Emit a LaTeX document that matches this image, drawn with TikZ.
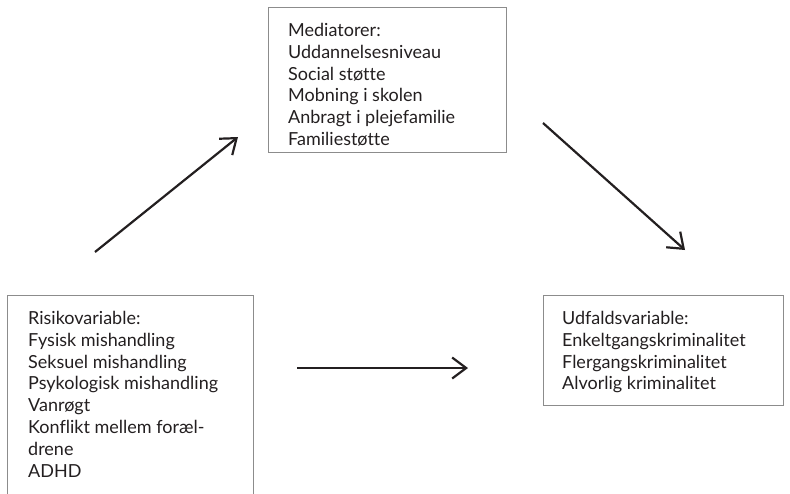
\documentclass[tikz,border=0pt]{standalone}
\usepackage{fontspec}
\setmainfont{Lato}[Ligatures={NoCommon}]
\usetikzlibrary{positioning,arrows.meta}
\definecolor{boxgray}{HTML}{8C8C8C}
\definecolor{ink}{HTML}{231F20}
\tikzset{
  box/.style={rectangle, draw=boxgray, line width=1.2pt, anchor=north west, inner sep=0pt},
  boxtext/.style={anchor=north west, align=left, inner sep=0pt, text=ink,
    font=\fontsize{18}{21.8}\selectfont},
  arr/.style={-{Straight Barb[length=14pt,width=21pt,line width=2.2pt]}, line width=2.2pt, draw=ink},
}
\begin{document}
\begin{tikzpicture}[x=1pt, y=1pt]
  \useasboundingbox (0,0) rectangle (790,-493);
  \clip (0,0) rectangle (790,-493);

  % the three boxes
  \node[box, minimum width=246, minimum height=215] (riskbox) at (7,-295) {};
  \node[box, minimum width=238, minimum height=145] (medbox) at (268,-7) {};
  \node[box, minimum width=240, minimum height=110] (outbox) at (543,-295) {};

  \node[boxtext, below right=16pt and 21pt of riskbox.north west] (risk) {Risikovariable:\\Fysisk mishandling\\Seksuel mishandling\\Psykologisk mishandling\\Vanrøgt\\Konflikt mellem foræl-\\drene\\ADHD};
  \node[boxtext, below right=16pt and 20pt of medbox.north west] (med) {Mediatorer:\\Uddannelsesniveau\\Social støtte\\Mobning i skolen\\Anbragt i plejefamilie\\Familiestøtte};
  \node[boxtext, below right=16pt and 19pt of outbox.north west] (out) {Udfaldsvariable:\\Enkeltgangskriminalitet\\Flergangskriminalitet\\Alvorlig kriminalitet};

  % arrow ends
  \coordinate (upA) at (95,-252);
  \coordinate (upB) at (238,-137);
  \coordinate (downA) at (543,-123);
  \coordinate (downB) at (685,-250);
  \coordinate (midA) at (297,-368);
  \coordinate (midB) at (468,-368);

  \draw[arr] (upA) -- (upB);
  \draw[arr] (downA) -- (downB);
  \draw[arr] (midA) -- (midB);
\end{tikzpicture}
\end{document}
